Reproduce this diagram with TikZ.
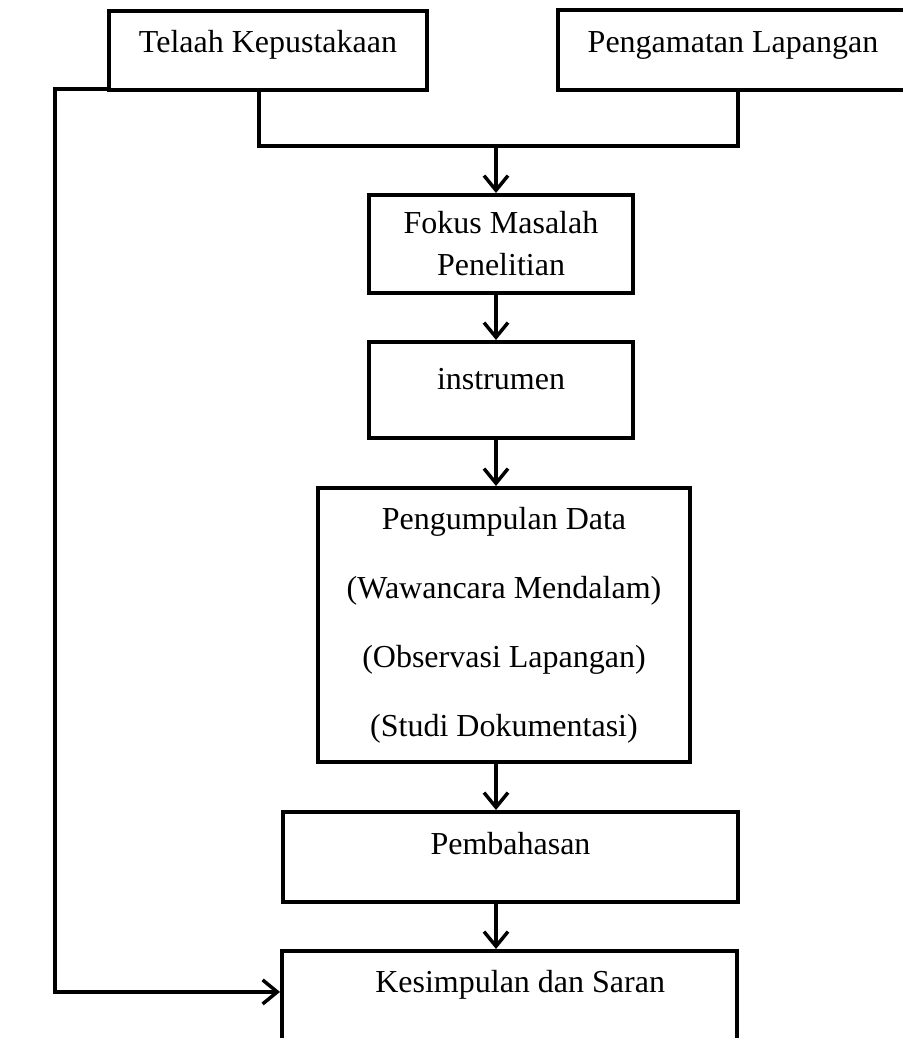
\documentclass[tikz,border=0pt]{standalone}
\usepackage{fontspec}
\setmainfont{Liberation Serif}
\usetikzlibrary{arrows.meta}
\tikzset{
    box/.style={draw=black, line width=1.5pt, fill=white, inner sep=0pt,
        align=center, font=\fontsize{12}{14.4}\selectfont},
    topbox/.style={box, text height=8.5pt, text depth=#1},
    line/.style={line width=1.3pt},
    arr/.style={line, -{Straight Barb[length=5.5pt, width=9pt]}}
}
\begin{document}
\begin{tikzpicture}[x=0.375pt, y=-0.375pt]
    \useasboundingbox (0,0) rectangle (903,1038);
    % Sumber masalah
    \node[topbox=6.9pt, minimum width=119.25pt, minimum height=29.6pt] (telaah) at (268,50.5) {Telaah Kepustakaan};
    \node[topbox=6.9pt, minimum width=131.25pt, minimum height=30pt] (pengamatan) at (733,50) {Pengamatan Lapangan};
    % Alur penelitian
    \node[box, minimum width=99pt, minimum height=36.75pt, font=\fontsize{12}{15.75}\selectfont] (fokus) at (501,244) {Fokus Masalah\\Penelitian};
    \node[topbox=8.8pt, minimum width=99pt, minimum height=36pt] (instrumen) at (501,390) {instrumen};
    \node[box, minimum width=139.5pt, minimum height=102.75pt, font=\fontsize{12}{25.9}\selectfont] (pengumpulan) at (504,625)
        {Pengumpulan Data\\(Wawancara Mendalam)\\(Observasi Lapangan)\\(Studi Dokumentasi)};
    \node[topbox=10.3pt, minimum width=170.6pt, minimum height=33.75pt] (pembahasan) at (510.5,857) {Pembahasan};
    \node[topbox=14.8pt, minimum width=170.6pt, minimum height=37.5pt] (kesimpulan) at (509.5,1001) {\hspace{8pt}Kesimpulan dan Saran};

    % Penghubung
    \coordinate (merge) at (496,146);
    \coordinate (kiri) at (55,500);
    \draw[line] ([xshift=-3.4pt]telaah.south) |- (merge) -| ([xshift=1.9pt]pengamatan.south);
    \draw[arr] (merge) -- (fokus.north -| merge);
    \draw[arr] (fokus.south -| merge) -- (instrumen.north -| merge);
    \draw[arr] (instrumen.south -| merge) -- (pengumpulan.north -| merge);
    \draw[arr] (pengumpulan.south -| merge) -- (pembahasan.north -| merge);
    \draw[arr] (pembahasan.south -| merge) -- (kesimpulan.north -| merge);
    \draw[arr] ([yshift=1.1pt]telaah.south west) -| (kiri) |- ([yshift=3.4pt]kesimpulan.west);
\end{tikzpicture}
\end{document}
